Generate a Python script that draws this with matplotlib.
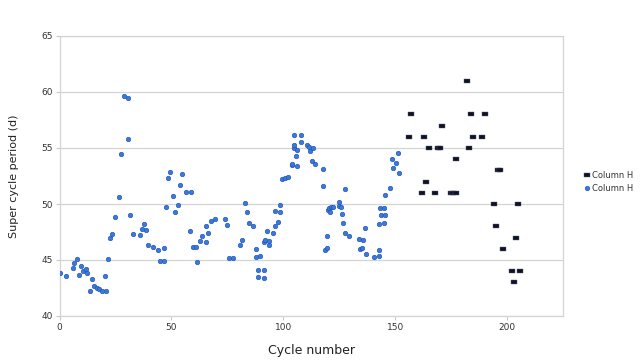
import numpy as np
import matplotlib.pyplot as plt

# blue series (cycle, super cycle period)
blue_cycle = [0.0, 2.8, 5.9, 6.5, 7.7, 8.7, 9.6, 10.6, 11.8, 12.4, 13.8, 14.5, 15.4, 16.6,
              17.6, 19.0, 20.3, 20.6, 21.5, 22.4, 23.4, 24.6, 26.4, 27.6, 28.7, 30.6, 30.7,
              31.6, 32.7, 35.8, 36.7, 37.6, 38.6, 39.7, 41.7, 43.8, 44.7, 46.7, 46.8, 47.4,
              48.6, 49.5, 50.8, 51.6, 52.8, 53.7, 54.7, 56.6, 58.3, 58.6, 59.6, 60.9, 61.4,
              62.7, 63.5, 65.3, 65.5, 66.3, 67.8, 69.4, 73.8, 74.8, 75.8, 77.6, 80.6, 81.6,
              82.7, 83.6, 84.9, 86.3, 87.7, 87.9, 88.5, 88.6, 89.8, 91.2, 91.2, 91.4, 91.7,
              92.8, 93.5, 93.8, 95.6, 96.3, 96.5, 97.5, 98.4, 98.7, 99.6, 100.6, 102.3,
              103.7, 104.0, 104.8, 104.8, 104.8, 105.7, 106.3, 106.3, 107.7, 107.9, 110.5,
              111.3, 112.0, 112.9, 113.5, 114.1, 117.6, 117.6, 118.8, 119.4, 119.6, 120.2,
              120.3, 120.8, 121.5, 122.1, 124.8, 124.9, 125.8, 126.4, 126.6, 127.6, 127.8,
              129.3, 133.8, 134.5, 135.0, 135.8, 136.7, 136.8, 140.7, 142.6, 142.6, 142.8,
              143.0, 143.7, 144.9, 145.2, 145.5, 145.5, 147.7, 148.8, 148.9, 150.5, 151.1,
              151.6]
blue_period = [43.8, 43.6, 44.3, 44.7, 45.1, 43.7, 44.5, 44.0, 44.2, 43.8, 42.2, 43.3, 42.7, 42.5,
               42.4, 42.2, 43.6, 42.2, 45.1, 47.0, 47.3, 48.8, 50.6, 54.5, 59.6, 55.8, 59.5,
               49.0, 47.3, 47.2, 47.8, 48.2, 47.7, 46.3, 46.2, 45.9, 44.9, 44.9, 46.1, 49.7,
               52.3, 52.9, 50.7, 49.3, 49.9, 51.7, 52.7, 51.1, 47.6, 51.1, 46.2, 46.2, 44.8,
               46.7, 47.1, 46.6, 48.0, 47.4, 48.5, 48.7, 48.7, 48.1, 45.2, 45.2, 46.3, 46.8,
               50.1, 49.3, 48.3, 48.0, 46.0, 45.3, 44.1, 43.5, 45.4, 44.1, 43.4, 46.6, 46.8,
               47.6, 46.3, 46.7, 47.4, 49.4, 48.0, 48.4, 49.3, 49.9, 52.2, 52.3, 52.4,
               53.5, 53.6, 55.0, 55.3, 56.2, 54.3, 53.4, 54.8, 56.2, 55.5, 55.3,
               55.1, 54.7, 53.8, 55.0, 53.6, 53.1, 51.6, 45.9, 47.1, 46.1, 49.45,
               49.6, 49.3, 49.7, 49.75, 50.15, 49.85, 49.7, 49.1, 48.3, 51.3, 47.4,
               47.1, 46.9, 45.95, 46.1, 46.8, 47.9, 45.5, 45.3, 45.4, 45.9, 48.2,
               49.6, 49.0, 49.6, 48.3, 49.0, 50.8, 51.4, 54.0, 53.2, 53.7, 54.55,
               52.8]

# black series (Column H)
h_cycle = [156, 157, 162, 163, 164, 165, 168, 169, 170, 171, 175, 176, 177, 177, 182, 183,
           184, 185, 189, 190, 194, 195, 196, 197, 198, 202, 203, 204, 205, 206]
h_period = [56, 58, 51, 56, 52, 55, 51, 55, 55, 57, 51, 51, 51, 54, 61, 55,
            58, 56, 56, 58, 50, 48, 53, 53, 46, 44, 43, 47, 50, 44]

fig = plt.figure(figsize=(6.4, 3.63), dpi=100)
ax = fig.add_axes([59.5 / 640, 1 - 316 / 363, (563 - 59.5) / 640, (316 - 36) / 363])

bar_marker = [(-1, -0.5), (1, -0.5), (1, 0.5), (-1, 0.5), (-1, -0.5)]
ax.plot(h_cycle, h_period, ls='none', marker=bar_marker, ms=4.4,
        mfc='#0d1226', mec='#5a5f70', mew=0.3, label='Column H', zorder=3)
ax.plot(blue_cycle, blue_period, ls='none', marker='o', ms=3.3,
        mfc='#3a78dc', mec='#1d4fae', mew=0.4, label='Column H', zorder=3)

ax.set_xlim(0, 225)
ax.set_ylim(40, 65)
ax.set_xticks([0, 50, 100, 150, 200])
ax.set_yticks([40, 45, 50, 55, 60, 65])
ax.grid(axis='y', color='#d4d4d4', lw=0.9)
ax.set_axisbelow(True)
for s in ax.spines.values():
    s.set_color('#d4d4d4')
    s.set_linewidth(0.9)
ax.tick_params(labelsize=6.5, labelcolor='#333333', color='#c8c8c8', length=3, width=0.8, pad=2)

ax.set_xlabel('Cycle number', fontsize=9, color='#222222', labelpad=9)
ax.set_ylabel('Super cycle period (d)', fontsize=8, color='#222222', labelpad=16)

fig.legend(loc='center left', bbox_to_anchor=(582 / 640, 1 - 182 / 363), frameon=False,
           fontsize=6, handlelength=0.7, handletextpad=0.35, labelspacing=0.45,
           labelcolor='#333333', borderaxespad=0, borderpad=0.2)

fig.savefig('out.png', dpi=100)
